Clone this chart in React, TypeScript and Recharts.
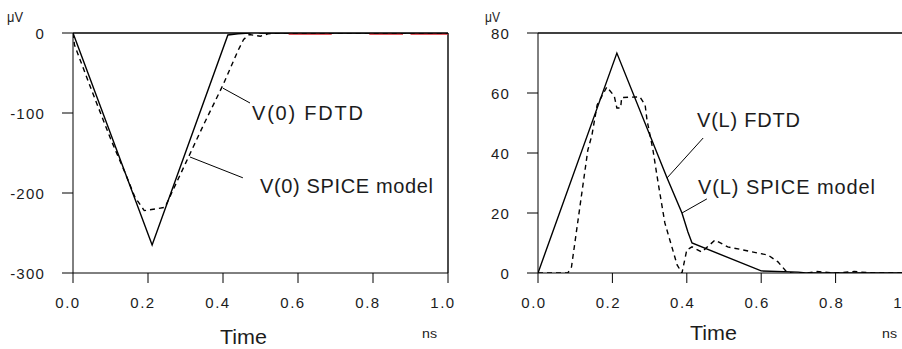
import React from "react";
import { LineChart, Line, XAxis, YAxis, ReferenceLine } from "recharts";

// time axis (ns)
const timeTicks = [0, 0.2, 0.4, 0.6, 0.8, 1.0];
const v0Ticks = [0, -100, -200, -300];
const vLTicks = [0, 20, 40, 60, 80];

// V(0), left panel
const v0Fdtd = [
  { t: 0, v: 0 },
  { t: 0.211, v: -265 },
  { t: 0.413, v: -2.5 },
  { t: 0.44, v: -1 },
  { t: 0.47, v: 0 },
  { t: 0.485, v: 2 },
  { t: 0.5, v: 0 },
  { t: 1.0, v: 0 },
];
const v0Spice = [
  { t: 0, v: 0 },
  { t: 0.004, v: -15 },
  { t: 0.05, v: -72 },
  { t: 0.1, v: -132 },
  { t: 0.14, v: -176 },
  { t: 0.165, v: -205 },
  { t: 0.19, v: -222 },
  { t: 0.245, v: -218 },
  { t: 0.3, v: -163 },
  { t: 0.35, v: -113 },
  { t: 0.4, v: -65 },
  { t: 0.44, v: -22 },
  { t: 0.455, v: -8 },
  { t: 0.47, v: -2 },
  { t: 0.5, v: -4 },
  { t: 0.52, v: -1 },
  { t: 0.55, v: 0 },
  { t: 1.0, v: 0 },
];
// red trace lying on the zero line
const v0Red = [
  { t: 0.575, v: -0.8 },
  { t: 0.69, v: -0.8 },
  { t: 0.7, v: null },
  { t: 0.79, v: -0.8 },
  { t: 0.88, v: -0.8 },
  { t: 0.89, v: null },
  { t: 0.9, v: -0.8 },
  { t: 1.0, v: -0.8 },
];

// V(L), right panel
const vLFdtd = [
  { t: 0, v: 0 },
  { t: 0.212, v: 73.3 },
  { t: 0.347, v: 31.7 },
  { t: 0.387, v: 20 },
  { t: 0.403, v: 13.7 },
  { t: 0.414, v: 10 },
  { t: 0.6, v: 0.7 },
  { t: 0.7, v: 0.3 },
  { t: 0.72, v: 0 },
  { t: 1.0, v: 0 },
];
const vLSpice = [
  { t: 0, v: 0 },
  { t: 0.08, v: 0 },
  { t: 0.09, v: 2 },
  { t: 0.134, v: 41 },
  { t: 0.145, v: 46 },
  { t: 0.159, v: 56 },
  { t: 0.185, v: 62 },
  { t: 0.205, v: 59 },
  { t: 0.212, v: 55 },
  { t: 0.222, v: 55 },
  { t: 0.225, v: 58.5 },
  { t: 0.274, v: 58.7 },
  { t: 0.288, v: 56 },
  { t: 0.293, v: 51 },
  { t: 0.309, v: 41 },
  { t: 0.323, v: 30 },
  { t: 0.341, v: 16.7 },
  { t: 0.374, v: 2.7 },
  { t: 0.387, v: 0 },
  { t: 0.4, v: 7.7 },
  { t: 0.414, v: 8.7 },
  { t: 0.44, v: 7 },
  { t: 0.476, v: 11 },
  { t: 0.51, v: 8.7 },
  { t: 0.551, v: 7.7 },
  { t: 0.589, v: 6.7 },
  { t: 0.618, v: 6 },
  { t: 0.645, v: 3.7 },
  { t: 0.669, v: 0.3 },
  { t: 0.7, v: -0.5 },
  { t: 0.75, v: 0.5 },
  { t: 0.8, v: 0 },
  { t: 0.85, v: 0.5 },
  { t: 0.9, v: 0 },
  { t: 1.0, v: 0 },
];

const FONT = "'Liberation Sans', Arial, sans-serif";
const INK = "#1c1c1c";

const YTick = (props: any) => (
  <text
    x={props.x}
    y={props.y}
    textAnchor="end"
    dominantBaseline="central"
    fontSize={15}
    letterSpacing={1.2}
    fill={INK}
    fontFamily={FONT}
  >
    {props.payload.value}
  </text>
);

const makeXTick = (dx: number) => (props: any) => (
  <text
    x={props.x + dx}
    y={props.y}
    textAnchor="middle"
    dominantBaseline="central"
    fontSize={15}
    letterSpacing={1.5}
    fill={INK}
    fontFamily={FONT}
  >
    {Number(props.payload.value).toFixed(1)}
  </text>
);

const lineProps = {
  type: "linear" as const,
  dataKey: "v",
  stroke: "#000",
  strokeWidth: 1.4,
  dot: false,
  activeDot: false,
  isAnimationActive: false,
};

function Panel({
  left,
  width,
  margin,
  domain,
  yTicks,
  topValue,
  rightBorder,
  tickDx,
  children,
}: any) {
  return (
    <div style={{ position: "absolute", left, top: 0 }}>
      <LineChart width={width} height={349} margin={margin}>
        <XAxis
          type="number"
          dataKey="t"
          domain={[0, 1]}
          ticks={timeTicks}
          height={30}
          tickSize={10}
          tickMargin={19}
          stroke="#000"
          tick={makeXTick(tickDx)}
          allowDataOverflow
        />
        <YAxis
          type="number"
          domain={domain}
          ticks={yTicks}
          width={60}
          tickSize={11}
          tickMargin={17}
          stroke="#000"
          tick={<YTick />}
          allowDataOverflow
        />
        <ReferenceLine y={topValue} stroke="#000" strokeWidth={1.4} />
        {rightBorder && <ReferenceLine x={1} stroke="#000" strokeWidth={1.4} />}
        {children}
      </LineChart>
    </div>
  );
}

export default function App() {
  return (
    <div
      style={{
        position: "absolute",
        left: 0,
        top: 0,
        width: 902,
        height: 349,
        overflow: "hidden",
        background: "#fff",
      }}
    >
      <Panel
        left={0}
        width={460}
        margin={{ top: 33, right: 12, bottom: 46, left: 13 }}
        domain={[-300, 0]}
        yTicks={v0Ticks}
        topValue={0}
        rightBorder
        tickDx={-5}
      >
        <Line {...lineProps} data={v0Red} stroke="#d8232c" strokeWidth={2.2} />
        <Line {...lineProps} data={v0Spice} strokeDasharray="5 4" />
        <Line {...lineProps} data={v0Fdtd} />
        <ReferenceLine
          segment={[
            { x: 0.4, y: -69 },
            { x: 0.472, y: -87.5 },
          ]}
          stroke="#000"
        />
        <ReferenceLine
          segment={[
            { x: 0.312, y: -155 },
            { x: 0.453, y: -181 },
          ]}
          stroke="#000"
        />
      </Panel>

      <Panel
        left={451}
        width={470}
        margin={{ top: 33, right: 11, bottom: 46, left: 27 }}
        domain={[0, 80]}
        yTicks={vLTicks}
        topValue={80}
        rightBorder={false}
        tickDx={-4}
      >
        <Line {...lineProps} data={vLSpice} strokeDasharray="5 4" />
        <Line {...lineProps} data={vLFdtd} />
        <ReferenceLine
          segment={[
            { x: 0.444, y: 45 },
            { x: 0.347, y: 31.7 },
          ]}
          stroke="#000"
        />
        <ReferenceLine
          segment={[
            { x: 0.454, y: 24.7 },
            { x: 0.387, y: 20 },
          ]}
          stroke="#000"
        />
      </Panel>

      <svg
        width={902}
        height={349}
        style={{ position: "absolute", left: 0, top: 0, pointerEvents: "none" }}
        fontFamily={FONT}
        fill={INK}
      >
        <text x={7} y={22} fontSize={14} textLength={16} lengthAdjust="spacingAndGlyphs">μV</text>
        <text x={485} y={22} fontSize={14} textLength={15} lengthAdjust="spacingAndGlyphs">μV</text>

        <text x={252} y={120} fontSize={20} textLength={111} lengthAdjust="spacing">V(0) FDTD</text>
        <text x={260} y={193} fontSize={20} textLength={173} lengthAdjust="spacing">V(0) SPICE model</text>
        <text x={697} y={127} fontSize={20} textLength={103} lengthAdjust="spacing">V(L) FDTD</text>
        <text x={698} y={194} fontSize={20} textLength={177} lengthAdjust="spacing">V(L) SPICE model</text>

        <text x={220} y={344} fontSize={20} textLength={47} lengthAdjust="spacingAndGlyphs">Time</text>
        <text x={690} y={340} fontSize={20} textLength={47} lengthAdjust="spacingAndGlyphs">Time</text>
        <text x={422} y={338} fontSize={12} textLength={15} lengthAdjust="spacingAndGlyphs">ns</text>
        <text x={882} y={338} fontSize={12} textLength={15} lengthAdjust="spacingAndGlyphs">ns</text>
      </svg>
    </div>
  );
}
